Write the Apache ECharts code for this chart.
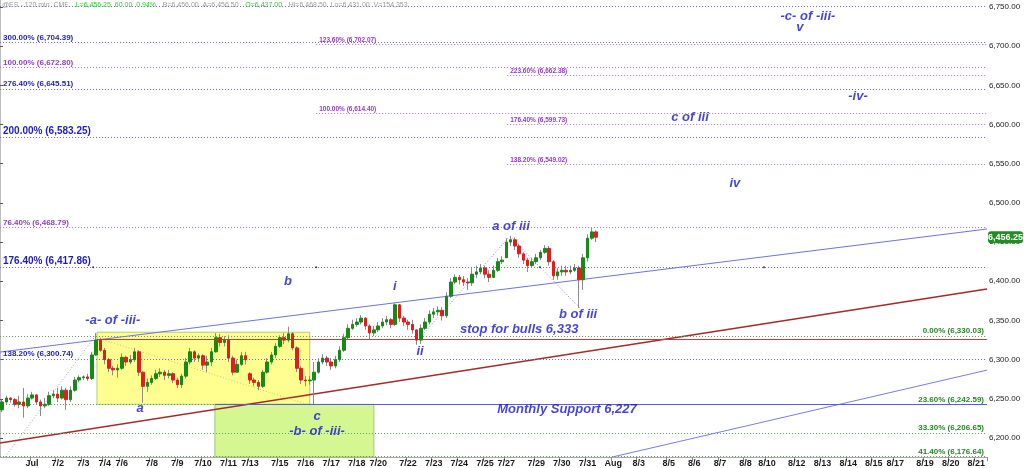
<!DOCTYPE html>
<html><head><meta charset="utf-8">
<script src="https://cdn.jsdelivr.net/npm/echarts@6/dist/echarts.min.js"></script>
<style>html,body{margin:0;padding:0;background:#fff}#c{width:1024px;height:468px}</style>
</head><body><div id="c"></div>
<script>
// ---- session labels and number of 4h slots per session ----
const dayLabels = ['', 'Jul','7/2','7/3','7/4','7/6','7/8','7/9','7/10','7/11','7/13','7/15','7/16','7/17','7/18','7/20','7/22','7/23','7/24','7/25','7/27','7/29','7/30','7/31','Aug','8/3','8/5','8/6','8/7','8/8','8/10','8/12','8/13','8/14','8/15','8/17','8/19','8/20','8/21'];
const daySlots  = [7,6,6,5,4,7,6,6,6,5,7,6,6,6,5,7,6,6,6,5,7,6,6,6,6,7,6,6,6,5,7,6,6,6,5,7,6,6,3];

// ---- candles (price) ----
const opens = [6236,6246,6251,6249,6243,6246,6241,6251,6255,6246,
6241,6243,6254,6256,6251,6261,6249,6261,6274,6277,
6278,6276,6306,6325,6312,6300,6289,6287,6289,6303,
6297,6300,6310,6284,6266,6271,6276,6282,6284,6280,
6282,6274,6268,6279,6297,6310,6302,6305,6293,6297,
6310,6328,6322,6325,6302,6284,6294,6305,6282,6274,
6271,6266,6284,6297,6306,6317,6328,6325,6333,6315,
6289,6274,6273,6274,6284,6297,6302,6297,6292,6300,
6312,6328,6340,6345,6348,6353,6343,6334,6338,6343,
6348,6351,6345,6370,6353,6348,6345,6338,6325,6340,
6348,6358,6361,6363,6356,6381,6399,6405,6402,6399,
6398,6409,6412,6417,6409,6405,6414,6425,6430,6450,
6453,6445,6435,6427,6420,6425,6430,6437,6442,6425,
6407,6412,6414,6412,6414,6417,6402,6430,6455,6463];
const highs = [6249,6254,6252,6251,6254,6264,6256,6259,6256,6249,
6251,6259,6261,6264,6266,6264,6266,6278,6280,6280,
6282,6310,6334,6328,6315,6302,6292,6294,6308,6305,
6306,6315,6312,6285,6276,6280,6287,6289,6287,6287,
6284,6277,6282,6302,6315,6312,6308,6307,6305,6315,
6334,6333,6330,6331,6305,6300,6310,6310,6284,6277,
6274,6287,6302,6310,6321,6331,6334,6342,6335,6317,
6292,6279,6279,6297,6302,6307,6305,6302,6305,6317,
6333,6345,6351,6353,6357,6354,6345,6343,6348,6353,
6356,6353,6372,6371,6356,6351,6351,6338,6345,6353,
6363,6366,6368,6367,6386,6404,6409,6408,6407,6404,
6417,6420,6422,6420,6414,6420,6430,6432,6455,6458,
6456,6448,6437,6430,6430,6435,6440,6446,6445,6427,
6417,6420,6420,6420,6422,6420,6435,6460,6468,6465];
const lows = [6233,6243,6245,6240,6238,6226,6238,6249,6242,6228,
6238,6241,6251,6246,6249,6236,6246,6259,6271,6274,
6273,6274,6305,6310,6294,6284,6280,6277,6287,6292,
6294,6297,6279,6245,6259,6268,6274,6278,6274,6276,
6270,6264,6264,6276,6294,6297,6297,6287,6284,6292,
6309,6317,6317,6297,6280,6283,6292,6294,6269,6266,
6261,6264,6282,6294,6302,6315,6320,6322,6312,6284,
6269,6266,6268,6242,6282,6294,6292,6287,6289,6297,
6310,6325,6338,6342,6345,6338,6325,6330,6335,6340,
6344,6340,6343,6348,6343,6338,6333,6319,6320,6338,
6345,6353,6356,6350,6353,6379,6396,6396,6394,6389,
6394,6404,6409,6404,6399,6404,6412,6422,6430,6445,
6440,6430,6422,6412,6417,6422,6427,6435,6420,6402,
6402,6407,6407,6409,6412,6366,6389,6425,6453,6450];
const closes = [6246,6251,6249,6243,6246,6241,6251,6255,6246,6241,
6243,6254,6256,6251,6261,6249,6261,6274,6277,6278,
6276,6306,6325,6312,6300,6289,6287,6289,6303,6297,
6300,6310,6284,6266,6271,6276,6282,6284,6280,6282,
6274,6268,6279,6297,6310,6302,6305,6293,6297,6310,
6328,6322,6325,6302,6284,6294,6305,6300,6274,6271,
6266,6284,6297,6306,6317,6328,6325,6333,6315,6289,
6274,6273,6274,6284,6297,6302,6297,6292,6300,6312,
6328,6340,6345,6348,6353,6343,6334,6338,6343,6348,
6351,6345,6370,6353,6348,6345,6338,6325,6340,6348,
6358,6361,6363,6356,6381,6399,6405,6402,6399,6398,
6409,6412,6417,6409,6405,6414,6425,6427,6450,6453,
6445,6435,6427,6420,6425,6430,6437,6442,6425,6407,
6412,6414,6412,6414,6417,6402,6430,6455,6463,6456.25];

// ---- price axis ----
const yMin = 6175.8, yMax = 6758.9;
const yTicks = [6200,6250,6300,6350,6400,6450,6500,6550,6600,6650,6700,6750];

// ---- Fibonacci levels (price, label, start slot) ----
const blueLevels = [6751, 6704.39, 6645.51, 6583.25, 6417.86, 6300.74];
const blueLabels = ['', '300.00% (6,704.39)', '276.40% (6,645.51)', '200.00% (6,583.25)', '176.40% (6,417.86)', '138.20% (6,300.74)'];
const blueMajor = [6583.25, 6417.86];
const purpleLevels = [6702.07, 6672.80, 6662.38, 6614.40, 6599.73, 6549.02, 6468.79];
const purpleLabels = ['123.60% (6,702.07)', '100.00% (6,672.80)', '223.60% (6,662.38)', '100.00% (6,614.40)', '176.40% (6,599.73)', '138.20% (6,549.02)', '76.40% (6,468.79)'];
const purpleStart = [74, 0, 118.7, 74, 118.7, 118.7, 0];
const greenLevels = [6330.03, 6242.59, 6206.65, 6176.64];
const greenLabels = ['0.00% (6,330.03)', '23.60% (6,242.59)', '33.30% (6,206.65)', '41.40% (6,176.64)'];
const stopLine = {price: 6326, start: 22.7};
const supportLine = {price: 6242.6, start: 50.3};
const dotSlots = [21.8, 74, 126.4, 178.8];
const dotPrice = 6417.86;

// ---- trend lines [slotX, price] ----
const upperChannel = [[0, 6309.7], [231, 6466.7]];
const lowerChannel = [[143.5, 6176], [231, 6286.7]];
const redTrend = [[0, 6193.6], [231, 6390.1]];
const waveA = [[1.2, 6176], [22.7, 6333]];
const waveAC = [[22.7, 6328], [72.5, 6242]];
const waveIItoA = [[97.8, 6325], [118.9, 6455]];
const waveAtoB = [[119.8, 6455], [135.7, 6366]];

// ---- zones [x0, p0, x1, p1] ----
const yellowZone = [22.7, 6335, 72.5, 6243];
const greenZone = [50.3, 6243, 87.5, 6175.8];

// ---- wave labels ----
const waveText = ['-a- of -iii-', 'a', 'b', 'c', '-b- of -iii-', 'i', 'ii', 'stop for bulls 6,333', 'a of iii', 'b of iii', 'Monthly Support 6,227', 'c of iii', 'iv', '-iv-', '-c- of -iii-', 'v'];
const waveX = [26.4, 32.8, 67.4, 74.2, 74.2, 92.4, 98.3, 121.5, 119.6, 135.3, 132.7, 161.5, 172, 200.8, 189.1, 187.2];
const waveY = [6350.5, 6238, 6400, 6228, 6209, 6394, 6311, 6339, 6470.5, 6358, 6237, 6609.6, 6525, 6636, 6738.5, 6724.4];

// ---------- build ----------
const cats = [];
dayLabels.forEach((d, i) => { for (let k = 0; k < daySlots[i]; k++) cats.push(d + '|' + k + '|' + i); });
const totalSlots = cats.length;
const isDayStart = (v) => { const p = String(v).split('|'); return p[1] === '0' && p[0] !== ''; };

const wickData = opens.map((o, i) => [o, closes[i], lows[i], highs[i]]);
const bodyData = opens.map((o, i) => [o, closes[i], Math.min(o, closes[i]), Math.max(o, closes[i])]);

const FONT = 'Liberation Sans, Arial, sans-serif';
const BLUE = '#6a6af0', PURPLE = '#b070f0', GREEN = '#5aaa5a';
const dot = [1, 2];

function levelItem(price, start, text, color, lblColor, size, pos) {
  return [
    {coord: [start, price], lineStyle: {color: color, type: dot, width: 1},
     label: {show: !!text, formatter: text, position: pos, color: lblColor, fontSize: size, fontWeight: 'bold', fontFamily: FONT, distance: [3, 1]}},
    {coord: [totalSlots, price]}
  ];
}
const markLines = [];
blueLevels.forEach((p, i) => {
  const big = blueMajor.indexOf(p) >= 0;
  markLines.push(levelItem(p, 0, blueLabels[i], BLUE, '#1c1cc4', big ? 10 : 8, 'insideStartTop'));
});
purpleLevels.forEach((p, i) => markLines.push(levelItem(p, purpleStart[i], purpleLabels[i], PURPLE, '#9438d4', purpleStart[i] > 0 ? 6.5 : 8, 'insideStartTop')));
greenLevels.forEach((p, i) => markLines.push(levelItem(p, 0, greenLabels[i], GREEN, '#268626', 8, 'insideEndTop')));
markLines.push([{coord: [stopLine.start, stopLine.price], lineStyle: {color: '#cc3b3b', type: 'solid', width: 1}, label: {show: false}}, {coord: [totalSlots, stopLine.price]}]);
markLines.push([{coord: [supportLine.start, supportLine.price], lineStyle: {color: '#5a5ae8', type: 'solid', width: 1}, label: {show: false}}, {coord: [totalSlots, supportLine.price]}]);

function seg(data, color, type, width, z) {
  return {type: 'line', xAxisIndex: 1, yAxisIndex: 0, data: data, showSymbol: false, symbol: 'none', silent: true, z: z,
    lineStyle: {color: color, type: type, width: width}, animation: false};
}

const chart = echarts.init(document.getElementById('c'), null, {renderer: 'canvas'});
const option = {
  animation: false,
  backgroundColor: '#ffffff',
  grid: {left: 0, right: 37, top: 0, bottom: 11, containLabel: false},
  xAxis: [
    {type: 'category', data: cats, boundaryGap: true,
     axisLine: {lineStyle: {color: '#a8a8a8', width: 1}},
     axisTick: {show: true, length: 4, interval: (i, v) => isDayStart(v), lineStyle: {color: '#888'}},
     axisLabel: {interval: (i, v) => isDayStart(v), formatter: v => String(v).split('|')[0], color: '#1a1a1a', fontSize: 9, fontWeight: 'bold', fontFamily: FONT, margin: 2},
     splitLine: {show: false}},
    {type: 'value', min: 0, max: totalSlots, show: false}
  ],
  yAxis: [{type: 'value', position: 'right', min: yMin, max: yMax, scale: true,
    axisLine: {show: true, lineStyle: {color: '#bdbdbd', width: 2}},
    axisTick: {show: true, length: 3, customValues: yTicks, lineStyle: {color: '#555'}},
    axisLabel: {customValues: yTicks, color: '#222', fontSize: 8, fontFamily: FONT, margin: 2,
      formatter: v => v.toLocaleString('en-US', {minimumFractionDigits: 2, maximumFractionDigits: 2})},
    splitLine: {show: false}}],
  series: [
    {type: 'line', xAxisIndex: 1, yAxisIndex: 0, data: [], z: 1, silent: true,
     markArea: {silent: true, data: [
       [{coord: [yellowZone[0], yellowZone[1]], itemStyle: {color: '#ffff90', borderColor: '#a9cf72', borderWidth: 1}}, {coord: [yellowZone[2], yellowZone[3]]}],
       [{coord: [greenZone[0], greenZone[1]], itemStyle: {color: '#d4f792', borderColor: '#9ccc66', borderWidth: 1}}, {coord: [greenZone[2], greenZone[3]]}]
     ]}},
    {type: 'line', xAxisIndex: 1, yAxisIndex: 0, data: [], z: 2, silent: true,
     markLine: {silent: true, symbol: ['none', 'none'], animation: false, data: markLines}},
    seg(upperChannel, '#6f6ff2', 'solid', 1, 3),
    seg(lowerChannel, '#7a7af2', 'solid', 1, 3),
    seg(redTrend, '#a52a2a', 'solid', 1.5, 3),
    seg(waveA, '#b58ae8', dot, 1, 3),
    seg(waveAC, '#c8c478', dot, 1, 3),
    seg(waveIItoA, '#a77ee0', dot, 1, 3),
    seg(waveAtoB, '#a77ee0', dot, 1, 3),
    {type: 'candlestick', xAxisIndex: 0, yAxisIndex: 0, data: wickData, barWidth: 1, z: 4, silent: true,
     itemStyle: {color: '#8c8c8c', color0: '#8c8c8c', borderColor: '#8c8c8c', borderColor0: '#8c8c8c', borderWidth: 1}},
    {type: 'candlestick', xAxisIndex: 0, yAxisIndex: 0, data: bodyData, barWidth: 3, z: 5, silent: true,
     itemStyle: {color: '#168a16', color0: '#e41c1c', borderColor: '#168a16', borderColor0: '#e41c1c', borderWidth: 1}},
    {type: 'scatter', xAxisIndex: 1, yAxisIndex: 0, z: 6, silent: true, symbolSize: 2,
     itemStyle: {color: '#111'}, data: dotSlots.map(x => [x, dotPrice])},
    {type: 'scatter', xAxisIndex: 1, yAxisIndex: 0, z: 7, silent: true, symbolSize: 1,
     itemStyle: {color: 'rgba(0,0,0,0)'},
     data: waveText.map((t, i) => [waveX[i], waveY[i], t]),
     label: {show: true, position: 'inside', formatter: p => p.data[2], color: '#1414d6', fontSize: 13,
       fontStyle: 'italic', fontWeight: 'bold', fontFamily: FONT}}
  ]
};
chart.setOption(option);

const lastClose = closes[closes.length - 1];
const tagY = chart.convertToPixel({yAxisIndex: 0}, lastClose);
chart.setOption({graphic: [
  {type: 'text', left: 2, top: -1, z: 20, silent: true,
   style: {text: '{g|@ES - 120 min  CME}  {n|L=6,456.25  60.00  0.94%}  {g|B=6,456.00  A=6,456.50}  {n|O=6,437.00}  {g|Hi=6,468.50  Lo=6,431.00  V=154,353}',
     rich: {g: {fill: '#9a9a9a', fontSize: 7, fontFamily: FONT}, n: {fill: '#2fcf2f', fontSize: 7, fontFamily: FONT}}}},
  {type: 'rect', shape: {x: 988, y: tagY - 6, width: 35, height: 12, r: 3}, style: {fill: '#1f8f1f'}, z: 20, silent: true},
  {type: 'text', x: 1005.5, y: tagY, z: 21, silent: true,
   style: {text: lastClose.toLocaleString('en-US', {minimumFractionDigits: 2}), fill: '#fff', fontSize: 9, fontWeight: 'bold', fontFamily: FONT, align: 'center', verticalAlign: 'middle'}}
]});
</script></body></html>
